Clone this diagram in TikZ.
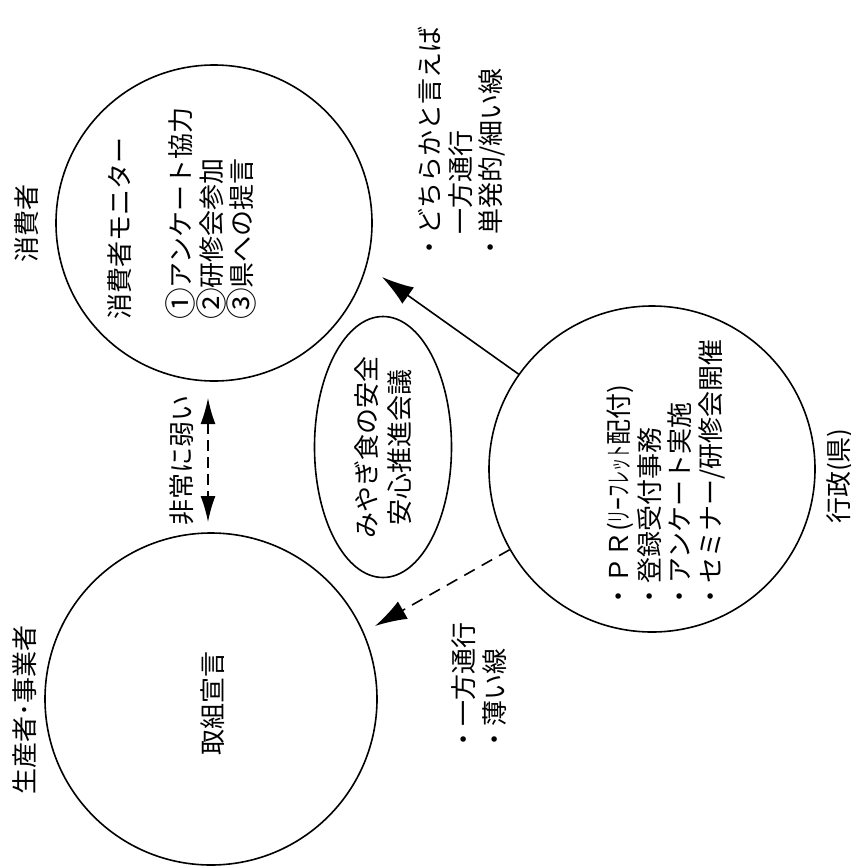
\documentclass[tikz,border=0pt]{standalone}
\usepackage{fontspec}
\setmainfont{Noto Sans CJK JP}
\usetikzlibrary{arrows.meta,shapes.geometric}
\newcommand{\circnum}[1]{\raisebox{-0.08em}{\scalebox{1.22}{#1}}}
\begin{document}
\begin{tikzpicture}[x=1pt,y=-1pt,
  lw/.style={line width=1.6pt},
  ring/.style={circle, draw, lw, inner sep=0pt},
  vtxt/.style={rotate=90, font=\fontsize{26}{30.5}\selectfont, inner sep=0pt, align=left},
  tipL/.style={-{Latex[length=32pt,width=20pt]}},
  dashline/.style={dash pattern=on 11pt off 6pt}]
\useasboundingbox[fill=white] (0,0) rectangle (851,868);

% circles
\node[ring, minimum size=316pt] (cons) at (214,223) {};
\node[ring, minimum size=332pt] (prod) at (211,699) {};
\node[ring, minimum size=326pt] (gyosei) at (652,469) {};
\node[ellipse, draw, lw, rotate=90, minimum width=261pt, minimum height=137pt, inner sep=0pt,
      font=\fontsize{26}{33}\selectfont, align=center] (miyagi) at (383,447) {みやぎ食の安全\\安心推進会議};

% outside labels
\node[vtxt] (lcons) at (27,223) {消費者};
\node[vtxt] (lprod) at (25,710) {生産者･事業者};
\node[vtxt] (lgyo) at (840,476) {行政(県)};

% text inside circles
\node[vtxt, anchor=west] (tcons) at (182,320) {消費者モニター\\[30.5pt]\circnum{①}アンケート協力\\\circnum{②}研修会参加\\\circnum{③}県への提言};
\node[vtxt] (tprod) at (213,703) {取組宣言};
\node[vtxt, anchor=west] (tgyo) at (666,610) {・ＰＲ(\scalebox{0.5}[1]{リーフレット}配付)\\・登録受付事務\\・アンケート実施\\・セミナー/研修会開催};

% connector labels
\node[vtxt] (weak) at (182,460) {非常に弱い};
\node[vtxt, anchor=west] (tone) at (462,261) {・どちらかと言えば\\　一方通行\\・単発的/細い線};
\node[vtxt, anchor=west] (tthin) at (479,753) {・一方通行\\・薄い線};

% connectors
\coordinate (c1) at (208,398);
\coordinate (c2) at (208,522);
\draw[lw, dashline, {Latex[length=26pt,width=15pt]}-{Latex[length=26pt,width=15pt]}] (c1) -- (c2);
\coordinate (a1) at (382,277);
\draw[lw, tipL] (gyosei) -- (a1);
\coordinate (a2) at (375,626);
\draw[lw, dash pattern=on 12pt off 8pt, tipL] (gyosei) -- (a2);
\end{tikzpicture}
\end{document}
